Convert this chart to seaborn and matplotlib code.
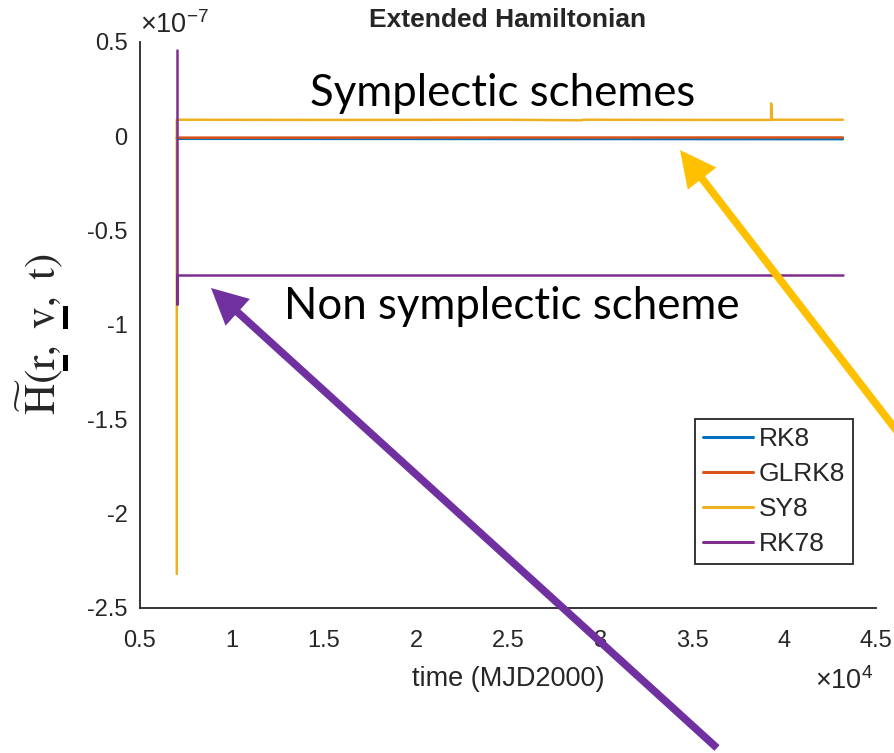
import numpy as np
import pandas as pd
import matplotlib
matplotlib.use("Agg")
import matplotlib.pyplot as plt
from matplotlib.ticker import FuncFormatter
from matplotlib.patches import Rectangle
from matplotlib.font_manager import FontProperties
from matplotlib.mathtext import MathTextParser
import seaborn as sns

# Energy error of the extended Hamiltonian for each integration scheme
t_rk8 = [7000, 43200]
h_rk8 = [-0.013e-7, -0.015e-7]

t_glrk8 = [7000, 43200]
h_glrk8 = [-0.007e-7, -0.006e-7]

t_sy8 = [7000, 7000, 7100, 15000, 25000, 29000, 29100, 36000, 39300, 39300, 39350, 43200]
h_sy8 = [-2.32e-7, 0.09e-7, 0.088e-7, 0.087e-7, 0.088e-7, 0.085e-7, 0.088e-7, 0.087e-7,
         0.087e-7, 0.175e-7, 0.088e-7, 0.088e-7]

t_rk78 = [7000, 7000, 7000, 43200]
h_rk78 = [0.46e-7, -0.89e-7, -0.735e-7, -0.735e-7]

schemes = ["RK8", "GLRK8", "SY8", "RK78"]
colors = ["#0072BD", "#D95319", "#EDB120", "#7E2F8E"]

x_ticks = [0.5e4, 1e4, 1.5e4, 2e4, 2.5e4, 3e4, 3.5e4, 4e4, 4.5e4]
y_ticks = [-2.5e-7, -2e-7, -1.5e-7, -1e-7, -0.5e-7, 0, 0.5e-7]

frames = []
for name, t, h in zip(schemes, [t_rk8, t_glrk8, t_sy8, t_rk78], [h_rk8, h_glrk8, h_sy8, h_rk78]):
    frames.append(pd.DataFrame({"time": t, "H": h, "scheme": name}))
df = pd.concat(frames, ignore_index=True)

sns.set_style("white")
plt.rcParams["font.family"] = ["Liberation Sans", "DejaVu Sans"]
plt.rcParams["mathtext.fontset"] = "custom"
plt.rcParams["mathtext.rm"] = "Liberation Sans"
plt.rcParams["mathtext.it"] = "Liberation Sans:italic"

W, H = 894, 753
dark = "#262626"
fig = plt.figure(figsize=(W / 100, H / 100), dpi=100)
ax = fig.add_axes([140 / W, 1 - 608 / H, 736 / W, 566 / H])

sns.lineplot(data=df, x="time", y="H", hue="scheme", hue_order=schemes,
             palette=colors, sort=False, estimator=None, linewidth=1.8, ax=ax)

ax.set_xlim(0.5e4, 4.5e4)
ax.set_ylim(-2.5e-7, 0.5e-7)
ax.set_xticks(x_ticks)
ax.set_yticks(y_ticks)
ax.xaxis.set_major_formatter(FuncFormatter(lambda v, p: f"{round(v / 1e4, 3):g}"))
ax.yaxis.set_major_formatter(FuncFormatter(lambda v, p: f"{round(v / 1e-7, 3):g}"))
ax.tick_params(direction="in", length=7, width=1.3, colors=dark, labelsize=17)
ax.tick_params(axis="x", pad=16)
ax.tick_params(axis="y", pad=9)
for side in ["top", "right"]:
    ax.spines[side].set_visible(False)
for side in ["left", "bottom"]:
    ax.spines[side].set_color(dark)
    ax.spines[side].set_linewidth(1.3)

ax.set_title("Extended Hamiltonian", fontsize=19, fontweight="bold", pad=11)
ax.set_xlabel("time (MJD2000)", fontsize=19.5, color=dark, labelpad=10)
ax.set_ylabel("")

ax.text(0.0, 1.006, r"$\times10^{-7}$", transform=ax.transAxes, ha="left", va="bottom",
        fontsize=19.5, color=dark)
ax.text(1.0 - 3 / 736, -0.105, r"$\times10^{4}$", transform=ax.transAxes, ha="right", va="top",
        fontsize=19.5, color=dark)

leg = ax.legend(loc="lower right", bbox_to_anchor=(713 / 736, 44 / 566), borderaxespad=0,
                fontsize=19, frameon=True, fancybox=False, framealpha=1, edgecolor=dark,
                handlelength=1.9, handletextpad=0.2, borderpad=0.3, labelspacing=0.415)
leg.get_frame().set_linewidth(1.3)
for line in leg.get_lines():
    line.set_linewidth(2.2)

# Vertical axis label: H-tilde(r, v, t) with underlined position and velocity
lab_size = 31
ylab = r"$\widetilde{\mathrm{H}}(\mathrm{r},\ \mathrm{v},\ \mathrm{t})$"
base_x, start_y = 55, H - 415  # pixels: baseline column and start of the label
fig.text(base_x / W, start_y / H, ylab, rotation=90, rotation_mode="anchor",
         ha="left", va="baseline", fontsize=lab_size, math_fontfamily="stix")

layout = MathTextParser("path").parse(
    ylab, dpi=72, prop=FontProperties(size=lab_size, math_fontfamily="stix"))
glyphs = sorted(layout.glyphs, key=lambda g: g[3])
px_per_pt = 100 / 72
for i, g in enumerate(glyphs):
    if chr(g[2]) in ("r", "v"):
        x0 = g[3]
        x1 = glyphs[i + 1][3] if i + 1 < len(glyphs) else x0 + 0.4 * lab_size
        fig.add_artist(Rectangle(((base_x + 8) / W, (start_y + x0 * px_per_pt - 1) / H), 5 / W,
                                 ((x1 - x0) * px_per_pt + 1) / H, transform=fig.transFigure,
                                 color="black", lw=0))

# Callouts
fig.text(503 / W, 1 - 93 / H, "Symplectic schemes", family=["Lato", "DejaVu Sans"],
         fontsize=31.5, ha="center", va="center", color="black")
fig.text(512 / W, 1 - 306 / H, "Non symplectic scheme", family=["Lato", "DejaVu Sans"],
         fontsize=31.5, ha="center", va="center", color="black")


def fig_xy(px, py):
    return (px / W, 1 - py / H)


arrow_style = "simple,tail_width=0.55,head_width=2.6,head_length=2.6"
ax.annotate("", xy=fig_xy(680, 150), xytext=fig_xy(920, 461), xycoords="figure fraction",
            textcoords="figure fraction", annotation_clip=False, zorder=10,
            arrowprops=dict(arrowstyle=arrow_style, mutation_scale=10, color="#FFC000",
                            lw=0, shrinkA=0, shrinkB=0, clip_on=False))
ax.annotate("", xy=fig_xy(211, 288), xytext=fig_xy(717, 748), xycoords="figure fraction",
            textcoords="figure fraction", annotation_clip=False, zorder=10,
            arrowprops=dict(arrowstyle=arrow_style, mutation_scale=10, color="#7030A0",
                            lw=0, shrinkA=0, shrinkB=0, clip_on=False))

fig.savefig("out.png", dpi=100)
